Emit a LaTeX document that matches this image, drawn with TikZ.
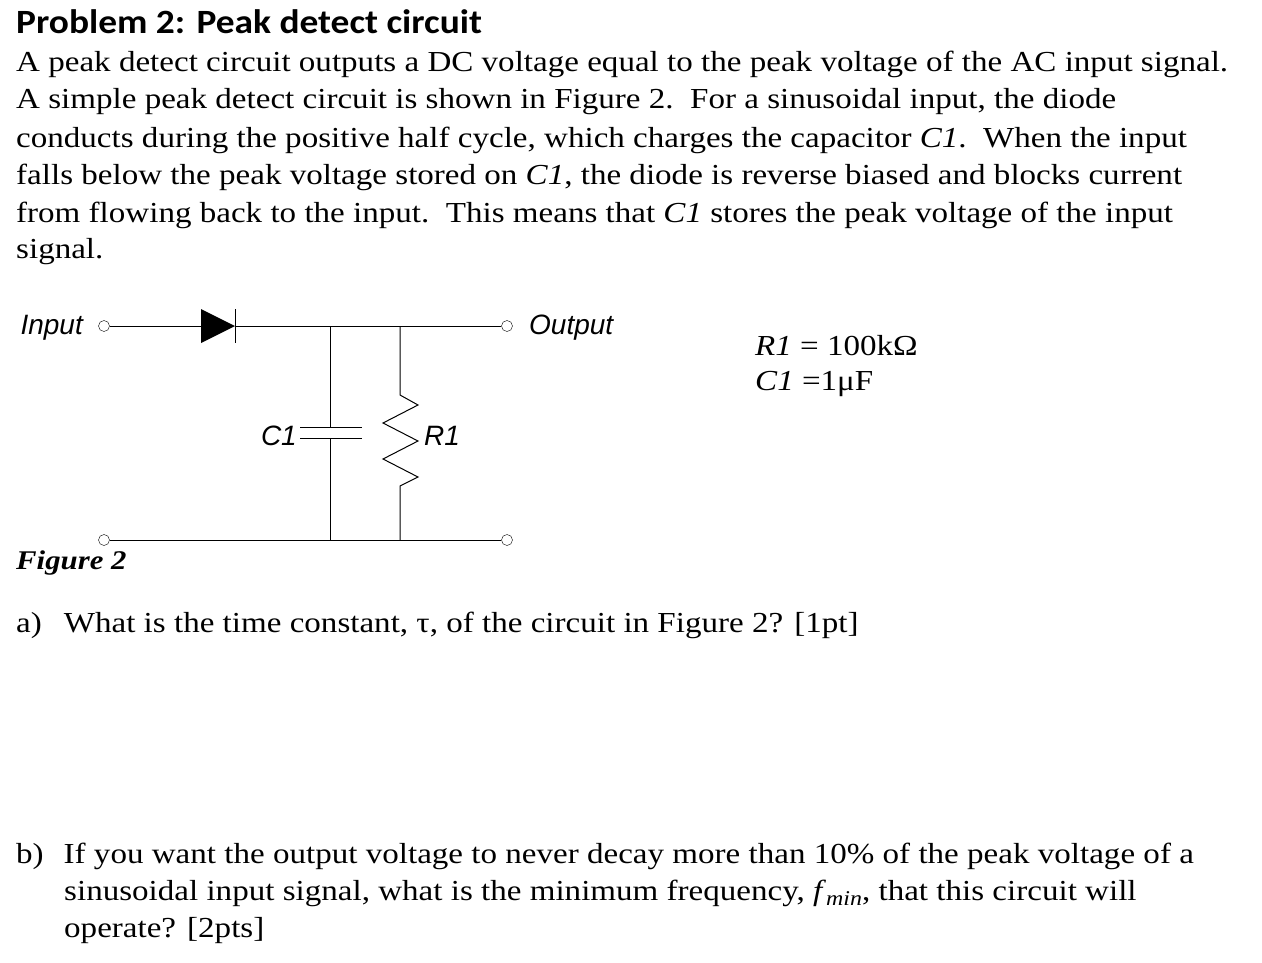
\documentclass[tikz,border=0pt]{standalone}
\usepackage{fontspec}
\setmainfont{Liberation Serif}[FakeStretch=1.14]
\newfontfamily\calib{Carlito}[FakeStretch=1.1]
\newfontfamily\arial{Liberation Sans}
\begin{document}
\begin{tikzpicture}[x=1pt,y=-1pt,
  line/.style={anchor=west,inner sep=0pt,font=\fontsize{29}{32}\selectfont},
  lab/.style={inner sep=0pt,font=\arial\itshape\fontsize{28}{30}\selectfont},
  term/.style={circle,draw,inner sep=0pt,minimum size=11pt},
  w/.style={line width=1pt}]
\useasboundingbox (0,0) rectangle (1262,962);
\node[line,font=\calib\bfseries\fontsize{34}{36}\selectfont] (t) at (16,22) {Problem 2: Peak detect circuit};
\node[line] (l1) at (16,64) {A peak detect circuit outputs a DC voltage equal to the peak voltage of the AC input signal.};
\node[line] (l2) at (16,102) {A simple peak detect circuit is shown in Figure 2.\ \ For a sinusoidal input, the diode};
\node[line] (l3) at (16,140) {conducts during the positive half cycle, which charges the capacitor \textit{C1}.\ \ When the input};
\node[line] (l4) at (16,177) {falls below the peak voltage stored on \textit{C1}, the diode is reverse biased and blocks current};
\node[line] (l5) at (16,215) {from flowing back to the input.\ \ This means that \textit{C1} stores the peak voltage of the input};
\node[line] (l6) at (16,252) {signal.};
\node[line] (v1) at (755,346) {\textit{R1} = 100kΩ};
\node[line] (v2) at (755,384) {\textit{C1} =1μF};
\node[line,font=\bfseries\itshape\fontsize{27}{29}\selectfont] (fig) at (16,563) {Figure 2};
\node[line] (qa) at (16,625) {a)\hspace{22pt}What is the time constant, τ, of the circuit in Figure 2? [1pt]};
\node[line] (qb1) at (16,856) {b)\hspace{20pt}If you want the output voltage to never decay more than 10\% of the peak voltage of a};
\node[line] (qb2) at (64,893) {sinusoidal input signal, what is the minimum frequency, \textit{f}\raisebox{-5pt}{\fontsize{21}{22}\selectfont\textit{min}}, that this circuit will};
\node[line] (qb3) at (64,931) {operate? [2pts]};
% circuit
\node[term] (in) at (104,326) {};
\node[term] (out) at (507,326) {};
\node[term] (gin) at (104,540) {};
\node[term] (gout) at (507,540) {};
\node[lab,anchor=east] (inl) at (83,328) {Input};
\node[lab,anchor=west] (outl) at (529,328) {Output};
\node[lab,anchor=east] (c1l) at (297,436) {C1};
\node[lab,anchor=west] (r1l) at (424,436) {R1};
\coordinate (da) at (201,326);
\coordinate (dk) at (235,326);
\coordinate (nc) at (330,326);
\coordinate (nr) at (400,326);
\coordinate (bc) at (330,540);
\coordinate (br) at (400,540);
\draw[w] (in) -- (da);
\fill (da) ++(0,-17) -- ++(34,17) -- ++(-34,17) -- cycle;
\draw[w] (dk) ++(0,-17) -- ++(0,34);
\draw[w] (dk) -- (out);
\draw[w] (nc) -- (330,427) (330,438) -- (bc);
\draw[w] (300,427) -- (362,427) (300,438) -- (362,438);
\draw[w] (nr) -- (400,395) -- (418,405) -- (383,423) -- (418,441) -- (383,459) -- (418,477) -- (400,486) -- (br);
\draw[w] (gin) -- (gout);
\end{tikzpicture}
\end{document}
